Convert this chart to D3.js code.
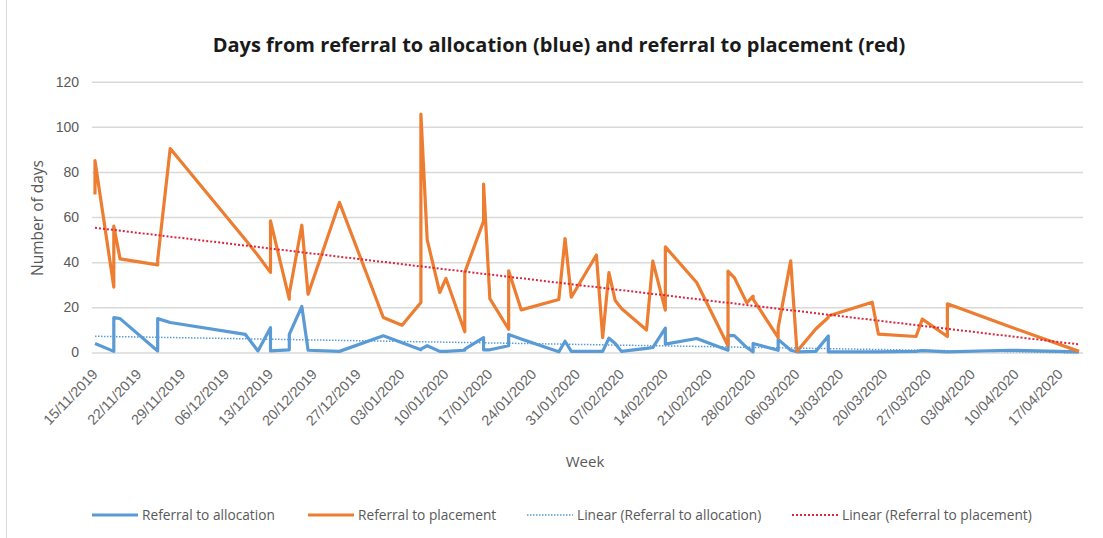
<!DOCTYPE html>
<html>
<head>
<meta charset="utf-8">
<script src="https://cdn.jsdelivr.net/npm/d3@7"></script>
<style>
  body { margin: 0; background: #fff; }
  svg { display: block; font-family: "Open Sans", "Noto Sans", sans-serif; }
</style>
</head>
<body>
<div id="chart"></div>
<script>
// referral dates (several referrals can share a date)
const dates = [
  "2019-11-15", "2019-11-15", "2019-11-18", "2019-11-18", "2019-11-19",
  "2019-11-25", "2019-11-25", "2019-11-27", "2019-12-09", "2019-12-11",
  "2019-12-13", "2019-12-13", "2019-12-16", "2019-12-16", "2019-12-18",
  "2019-12-19", "2019-12-24", "2019-12-31", "2020-01-03", "2020-01-06",
  "2020-01-06", "2020-01-07", "2020-01-09", "2020-01-10", "2020-01-13",
  "2020-01-13", "2020-01-16", "2020-01-16", "2020-01-17", "2020-01-20",
  "2020-01-20", "2020-01-22", "2020-01-28", "2020-01-29", "2020-01-30",
  "2020-02-03", "2020-02-04", "2020-02-05", "2020-02-06", "2020-02-07",
  "2020-02-11", "2020-02-12", "2020-02-14", "2020-02-14", "2020-02-19",
  "2020-02-24", "2020-02-24", "2020-02-25", "2020-02-27", "2020-02-28",
  "2020-02-28", "2020-03-03", "2020-03-03", "2020-03-05", "2020-03-06",
  "2020-03-09", "2020-03-11", "2020-03-11", "2020-03-18", "2020-03-19",
  "2020-03-25", "2020-03-26", "2020-03-30", "2020-03-30", "2020-04-09",
  "2020-04-20"
];

const allocation = [
  4, 4, 0.5, 15.5, 15,
  0.7, 15, 13.3, 8, 0.7,
  11, 0.7, 1.2, 8, 20.4,
  1, 0.5, 7.4, 4.3, 1.2,
  1.5, 3, 0.5, 0.5, 1,
  1.5, 6.6, 1.2, 1.2, 3,
  8, 6, 0.3, 5, 0.5,
  0.5, 0.5, 6.3, 4, 0.5,
  1.8, 2.2, 10.8, 3.7, 6.2,
  1, 7.6, 7.5, 2.2, 0.3,
  4, 1, 5.8, 1, 0.3,
  0.5, 7.3, 0.3, 0.3, 0.3,
  0.5, 0.8, 0.3, 0.3, 1,
  0.3
];

const placement = [
  70, 85, 29, 56, 41.5,
  38.8, 41, 90.4, 50, 43,
  35.5, 58.3, 23.6, 26, 56.4,
  25.8, 66.5, 15.5, 12.1, 22.2,
  105.6, 50, 26.6, 32.8, 9.2,
  35.5, 58.3, 74.6, 23.9, 10.3,
  36.2, 18.9, 23.5, 50.5, 24.5,
  43.2, 6.6, 35.4, 23, 19.5,
  10, 40.5, 18.8, 46.8, 31,
  3, 36.1, 33.2, 22, 25,
  23.7, 6.6, 11, 40.6, 0.5,
  10.4, 15.5, 16.2, 22.3, 8.1,
  7.1, 14.8, 7.1, 21.6, 11.4,
  0.5
];

const weekLabels = [
  "15/11/2019", "22/11/2019", "29/11/2019", "06/12/2019", "13/12/2019",
  "20/12/2019", "27/12/2019", "03/01/2020", "10/01/2020", "17/01/2020",
  "24/01/2020", "31/01/2020", "07/02/2020", "14/02/2020", "21/02/2020",
  "28/02/2020", "06/03/2020", "13/03/2020", "20/03/2020", "27/03/2020",
  "03/04/2020", "10/04/2020", "17/04/2020"
];

const yTicks = [0, 20, 40, 60, 80, 100, 120];

const seriesNames = [
  "Referral to allocation", "Referral to placement",
  "Linear (Referral to allocation)", "Linear (Referral to placement)"
];

const width = 1103, height = 538;
const blue = "#5b9bd5", orange = "#ed7d31", red = "#d9263e";

const parseIso = d3.timeParse("%Y-%m-%d");
const parseDmy = d3.timeParse("%d/%m/%Y");

const rowsA = dates.map((d, i) => ({ date: parseIso(d), value: allocation[i] }));
const rowsP = dates.map((d, i) => ({ date: parseIso(d), value: placement[i] }));

const svg = d3.select("#chart").append("svg")
  .attr("width", width)
  .attr("height", height);

// faint chart border on the left
svg.append("line")
  .attr("x1", 6.5).attr("x2", 6.5)
  .attr("y1", 0).attr("y2", height)
  .attr("stroke", "#d9d9d9");

const x = d3.scaleTime()
  .domain(d3.extent(rowsA, d => d.date))
  .range([95, 1079]);

const y = d3.scaleLinear()
  .domain([0, 120])
  .range([352.5, 81.7]);

// gridlines + y labels
const yAxis = svg.append("g")
  .attr("transform", "translate(92,0)")
  .call(d3.axisLeft(y).tickValues(yTicks).tickSize(-991).tickPadding(13));
yAxis.select(".domain").remove();
yAxis.selectAll(".tick line").attr("stroke", "#d9d9d9").attr("stroke-width", 1.5);
yAxis.selectAll(".tick text")
  .attr("fill", "#595959")
  .style("font-size", "14px");

// x labels (weekly)
const xAxis = svg.append("g")
  .attr("transform", "translate(0,353)")
  .call(d3.axisBottom(x)
    .tickValues(weekLabels.map(parseDmy))
    .tickFormat(d3.timeFormat("%d/%m/%Y"))
    .tickSize(0));
xAxis.select(".domain").remove();
xAxis.selectAll(".tick text")
  .attr("fill", "#666666")
  .style("font-size", "14.3px")
  .attr("text-anchor", "end")
  .attr("dy", null)
  .attr("y", 0)
  .attr("transform", "translate(3,22) rotate(-46)");

// data lines
const line = d3.line().x(d => x(d.date)).y(d => y(d.value));

svg.append("path").datum(rowsA)
  .attr("d", line)
  .attr("fill", "none")
  .attr("stroke", blue)
  .attr("stroke-width", 3.2)
  .attr("stroke-linejoin", "round");

svg.append("path").datum(rowsP)
  .attr("d", line)
  .attr("fill", "none")
  .attr("stroke", orange)
  .attr("stroke-width", 3.2)
  .attr("stroke-linejoin", "round");

// linear trendlines (least squares on date)
function trend(rows) {
  const xs = rows.map(d => +d.date), ys = rows.map(d => d.value);
  const mx = d3.mean(xs), my = d3.mean(ys);
  const b = d3.sum(xs, (v, i) => (v - mx) * (ys[i] - my)) / d3.sum(xs, v => (v - mx) * (v - mx));
  const a = my - b * mx;
  const [x0, x1] = d3.extent(xs);
  return [{ date: new Date(x0), value: a + b * x0 }, { date: new Date(x1), value: a + b * x1 }];
}

svg.append("path").datum(trend(rowsA))
  .attr("d", line)
  .attr("fill", "none")
  .attr("stroke", blue)
  .attr("stroke-width", 1.5)
  .attr("stroke-dasharray", "1.5,1.5");

svg.append("path").datum(trend(rowsP))
  .attr("d", line)
  .attr("fill", "none")
  .attr("stroke", red)
  .attr("stroke-width", 2)
  .attr("stroke-dasharray", "2,2");

// titles
svg.append("text")
  .attr("x", 559).attr("y", 52)
  .attr("text-anchor", "middle")
  .attr("fill", "#1a1a1a")
  .style("font-size", "20px")
  .style("font-weight", "bold")
  .text("Days from referral to allocation (blue) and referral to placement (red)");

svg.append("text")
  .attr("transform", "translate(43,218) rotate(-90)")
  .attr("text-anchor", "middle")
  .attr("fill", "#595959")
  .style("font-size", "15.5px")
  .text("Number of days");

svg.append("text")
  .attr("x", 585).attr("y", 467)
  .attr("text-anchor", "middle")
  .attr("fill", "#595959")
  .style("font-size", "15px")
  .text("Week");

// legend
const legendX = [92, 308, 527, 792];
const legendStyle = [
  { color: blue, w: 3.2, dash: null },
  { color: orange, w: 3.2, dash: null },
  { color: blue, w: 1.5, dash: "1.5,1.5" },
  { color: red, w: 2, dash: "2,2" }
];
const legend = svg.append("g").selectAll("g")
  .data(seriesNames)
  .join("g")
  .attr("transform", (d, i) => `translate(${legendX[i]},515)`);

legend.append("line")
  .attr("x1", 0).attr("x2", 46)
  .attr("stroke", (d, i) => legendStyle[i].color)
  .attr("stroke-width", (d, i) => legendStyle[i].w)
  .attr("stroke-dasharray", (d, i) => legendStyle[i].dash);

legend.append("text")
  .attr("x", 50).attr("dy", "0.35em")
  .attr("fill", "#595959")
  .style("font-size", "13.7px")
  .text(d => d);
</script>
</body>
</html>
